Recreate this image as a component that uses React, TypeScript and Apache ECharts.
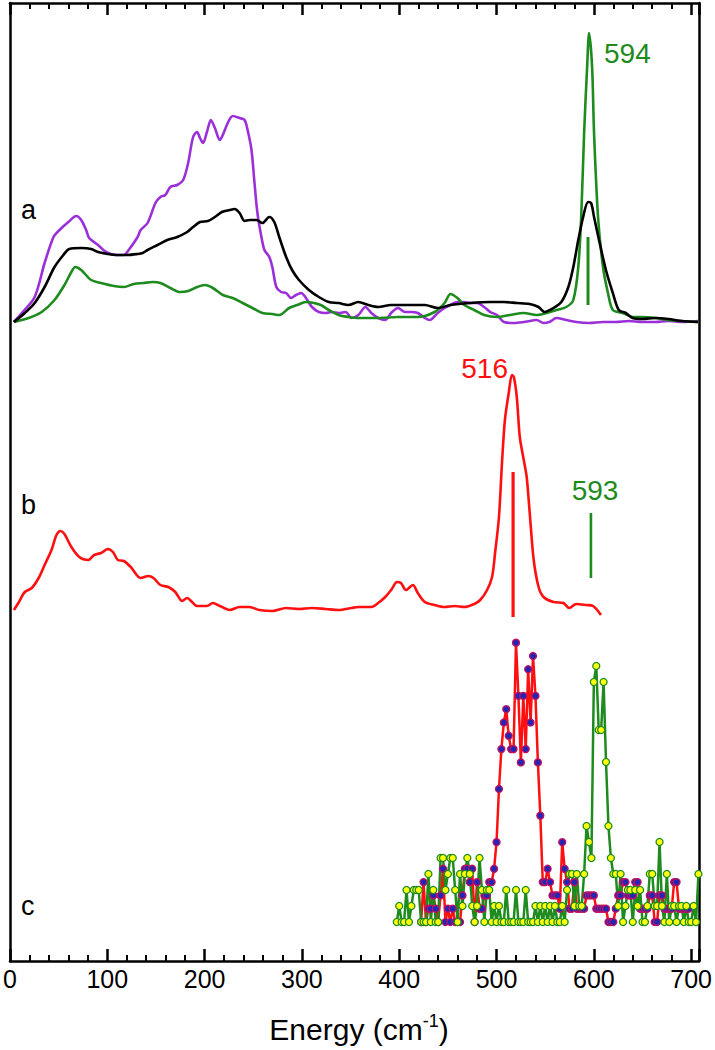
import React, { useEffect, useRef } from "react";
import * as echarts from "echarts";

// ---------- axis ----------
const xTickValues = [0, 100, 200, 300, 400, 500, 600, 700];
const xMin = 0;
const xMax = 708;

// ---------- panel a (intensity above panel baseline) ----------
const purpleE = [3.8, 12.2, 25.4, 35.6, 44.8, 50.9, 60, 68.2, 73.2, 78.3, 81.4, 90.5, 98.7, 108.9, 117, 122, 131.2, 134.3, 141.4, 149.5, 154.6, 159.7, 164.8, 171.9, 178, 183.1, 188.2, 192.3, 195.3, 198.4, 202.4, 206.5, 210.6, 215.7, 218.7, 223.8, 228.9, 236, 241.1, 244.2, 248.2, 251.3, 254.3, 258.4, 261.5, 266.5, 269.6, 273.7, 278.7, 283.8, 288.9, 294, 299.1, 304.2, 310.3, 317.4, 324.5, 330.6, 337.7, 344.9, 351, 358, 365.2, 371.3, 378.4, 385.6, 391.7, 398.8, 405.9, 412, 419.1, 426.3, 431.3, 439.5, 446.6, 452.7, 459.8, 466.9, 473, 480.2, 487.3, 493.4, 500.5, 507.6, 517.8, 528, 541.2, 548.3, 554.4, 561.5, 571.7, 581.9, 595.1, 609.4, 622.6, 635.8, 650, 663.3, 676.5, 690.7, 707];
const purpleI = [0, 9, 25, 59, 85, 92, 100, 106, 102, 92, 84, 77, 70, 67, 67, 72, 85, 92, 99, 119, 125, 127, 135, 137, 142, 159, 185, 190, 184, 179, 190, 202, 194, 182, 187, 199, 206, 204, 202, 192, 172, 139, 109, 85, 72, 65, 55, 35, 30, 29, 24, 27, 29, 24, 15, 10, 9, 10, 9, 10, 4, 7, 15, 9, 4, 2, 9, 14, 10, 10, 9, 4, 2, 9, 14, 17, 20, 20, 19, 19, 15, 10, 7, 0, -1, 0, 2, -1, 0, 4, 2, 0, -1, 0, 0, 1, 0, 0, 1, 0, 1];

const blackE = [4.1, 15.3, 25.4, 35.6, 45.8, 54.9, 61, 73.2, 83.4, 90.5, 100.7, 110.9, 121.1, 131.2, 136.3, 141.4, 151.6, 161.7, 171.9, 182.1, 188.2, 195.3, 203.5, 210.6, 217.7, 225.8, 230.9, 236, 241.1, 246.2, 253.3, 259.4, 266.5, 271.6, 276.7, 283.8, 289.9, 297, 307.2, 317.4, 327.6, 337.7, 347.9, 358, 368.3, 378.4, 391.7, 405.9, 426.3, 439.5, 452.7, 473, 493.4, 507.6, 520.8, 534, 543.2, 549.3, 558.5, 566.6, 573.8, 578.9, 584, 589, 594.1, 597.2, 600.2, 605.3, 612.4, 619.5, 625.6, 632.8, 639.9, 650, 663.3, 676.5, 690.7, 707];
const blackI = [0, 9, 19, 35, 55, 67, 73, 74, 73, 70, 68, 67, 67, 68, 69, 72, 77, 82, 85, 90, 95, 100, 101, 105, 110, 112, 113, 109, 101, 102, 102, 99, 105, 100, 85, 65, 52, 42, 32, 25, 20, 19, 17, 20, 17, 15, 17, 17, 17, 14, 17, 19, 20, 20, 19, 18, 15, 10, 14, 20, 35, 55, 82, 105, 120, 119, 105, 82, 52, 29, 12, 9, 4, 3, 4, 3, 1, 0];

const greenAE = [4.1, 19.3, 32.6, 45.8, 56, 63.1, 67.1, 73.2, 83.4, 93.6, 106.8, 117, 127.2, 137.3, 146.5, 154.6, 164.8, 175, 183.1, 192.3, 200.4, 208.5, 218.7, 228.9, 239.1, 249.2, 259.4, 269.6, 276.7, 286.9, 295, 304.2, 312.3, 319.4, 327.6, 337.7, 347.9, 358, 378.4, 398.8, 419.1, 436.4, 446.6, 452.7, 459.8, 466.9, 477.1, 487.3, 500.5, 513.7, 528, 541.2, 551.4, 561.5, 571.7, 578.9, 584, 587, 590, 593.1, 595.1, 598.2, 600.2, 604.3, 609.4, 614.5, 619.5, 629.7, 639.9, 650, 663.3, 676.5, 690.7, 707];
const greenAI = [0, 4, 10, 22, 37, 50, 55, 52, 42, 39, 36, 35, 38, 39, 40, 39, 34, 30, 31, 35, 37, 34, 27, 24, 19, 14, 9, 8, 7, 14, 17, 20, 19, 17, 12, 7, 5, 4, 4, 5, 5, 10, 19, 28, 24, 17, 12, 7, 5, 7, 9, 7, 9, 12, 15, 22, 55, 105, 189, 255, 289, 255, 189, 105, 55, 29, 12, 9, 5, 5, 4, 2, 1, 0];

// stick mark in panel a (energy, from, to)
const stickA = { energy: 594, from: 17, to: 85 };

// ---------- panel b ----------
const redBE = [4.1, 9.2, 15.3, 22.4, 29.5, 35.6, 42.7, 47.8, 51.9, 56, 63.1, 71.2, 80.4, 86.5, 93.6, 100.7, 105.8, 110.9, 117, 124.1, 134.3, 142.4, 147.5, 154.6, 162.8, 169.9, 177, 182.1, 187.2, 192.3, 202.4, 208.5, 215.7, 225.8, 236, 246.2, 256.4, 269.6, 283.8, 297, 310.3, 324.5, 337.7, 351, 358, 371.3, 378.4, 385.6, 391.7, 397.8, 401.8, 406.9, 414, 419.1, 426.3, 436.4, 446.6, 456.8, 466.9, 477.1, 483.2, 490.3, 495.4, 498.5, 502.5, 505.6, 508.6, 512.7, 515.8, 517.8, 520.8, 523.9, 528, 531, 534.1, 538.2, 543.2, 548.3, 558.5, 568.7, 574.8, 581.9, 592.1, 599.2, 607.3];
const redBI = [0, 8, 18, 22, 32, 45, 60, 75, 79, 76, 63, 53, 50, 55, 57, 61, 58, 50, 49, 43, 32, 34, 32, 25, 23, 18, 9, 12, 8, 4, 4, 7, 4, 0, 3, 3, 0, -1, 2, 1, 2, 1, 0, 2, 3, 3, 7, 13, 20, 28, 27, 20, 25, 17, 8, 5, 3, 4, 3, 6, 10, 20, 33, 57, 93, 147, 190, 218, 235, 233, 213, 173, 150, 133, 97, 50, 23, 13, 8, 7, 2, 6, 5, 4, -5];

const stickBRed = { energy: 517, from: -7, to: 138 };
const stickBGreen = { energy: 597, from: 32, to: 97 };

// ---------- panel c (counts) ----------
const cEnergy = [
  397.5, 400, 402.5, 405, 407.5, 410, 412.5, 415, 417.5, 420,
  422.5, 425, 427.5, 430, 432.5, 435, 437.5, 440, 442.5, 445,
  447.5, 450, 452.5, 455, 457.5, 460, 462.5, 465, 467.5, 470,
  472.5, 475, 477.5, 480, 482.5, 485, 487.5, 490, 492.5, 495,
  497.5, 500, 502.5, 505, 507.5, 510, 512.5, 515, 517.5, 520,
  522.5, 525, 527.5, 530, 532.5, 535, 537.5, 540, 542.5, 545,
  547.5, 550, 552.5, 555, 557.5, 560, 562.5, 565, 567.5, 570,
  572.5, 575, 577.5, 580, 582.5, 585, 587.5, 590, 592.5, 595,
  597.5, 600, 602.5, 605, 607.5, 610, 612.5, 615, 617.5, 620,
  622.5, 625, 627.5, 630, 632.5, 635, 637.5, 640, 642.5, 645,
  647.5, 650, 652.5, 655, 657.5, 660, 662.5, 665, 667.5, 670,
  672.5, 675, 677.5, 680, 682.5, 685, 687.5, 690, 692.5, 695,
  697.5, 700, 702.5, 705, 707.5,
];
const redCounts = [
  null, null, null, null, null, null, null, null, null, null,
  0, 3, 0, 1, 1, 2, 1, 0, 2, 4,
  0, 1, 0, 1, 0, 0, 0, 2, 4, 4,
  3, 4, 0, 3, 1, 1, 2, 2, 3, 3,
  4, 6, 10, 13, 15, 16, 14, 13, 13, 21,
  17, 12, 17, 13, 19, 15, 20, 17, 12, 8,
  3, 3, 4, 3, 2, 2, 2, 1, 6, 4,
  3, 1, 1, 3, 1, 1, 1, 1, 2, 2,
  2, 2, 1, 1, 1, 1, 1, 0, 0, 0,
  1, 2, 2, 3, 3, 2, 2, 2, 3, 3,
  1, 1, 1, 1, 2, 2, 0, 0, 2, 2,
  1, 1, 1, 1, 3, 3, 1, 1, 1, 1,
  1, null, null, null, null,
];
const greenCounts = [
  0, 1, 0, 0, 2, 0, 1, 2, 2, 2,
  0, 0, 0, 3, 0, 2, 0, 0, 4, 4,
  2, 3, 4, 4, 2, 0, 3, 1, 3, 4,
  3, 1, 0, 1, 4, 2, 0, 2, 2, 0,
  1, 0, 1, 0, 0, 2, 0, 0, 0, 2,
  0, 0, 0, 2, 0, 0, 0, 1, 0, 1,
  0, 1, 0, 1, 0, 1, 0, 0, 1, 0,
  2, 3, 3, 1, 3, 1, 1, 3, 6, 5,
  4, 15, 16, 12, 12, 15, 10, 6, 4, 3,
  3, 1, 3, 0, 1, 2, 2, 0, 2, 1,
  2, 0, 0, 1, 3, 3, 1, 1, 5, 1,
  0, 3, 0, 1, 1, 0, 1, 1, 0, 1,
  0, 0, 1, 0, 3,
];

// ---------- layout constants (vertical stacking of the panels) ----------
const OFFSET_A = 639;
const OFFSET_B = 351;
const OFFSET_C = 39;
const RED_COUNT_SCALE = 13.3;
const GREEN_COUNT_SCALE = 16;
const Y_MAX = 958;

const FONT = "'Liberation Sans', Arial, Helvetica, sans-serif";
const PURPLE = "#9B30D9";
const GREEN = "#1E8B1E";
const RED = "#FF1010";
const BLACK = "#000000";

function App() {
  const ref = useRef<HTMLDivElement | null>(null);

  useEffect(() => {
    if (!ref.current) return;
    const chart = echarts.init(ref.current, undefined, { renderer: "svg" });

    const trace = (E: number[], I: number[], offset: number, color: string, width = 2.6) => ({
      type: "line",
      data: E.map((e, i) => [e, offset + I[i]]),
      showSymbol: false,
      symbol: "none",
      smooth: 0.3,
      silent: true,
      lineStyle: { color, width },
      xAxisIndex: 0,
      yAxisIndex: 0,
    });
    const stick = (s: { energy: number; from: number; to: number }, offset: number, color: string, width = 3) => ({
      type: "line",
      data: [
        [s.energy, offset + s.from],
        [s.energy, offset + s.to],
      ],
      showSymbol: false,
      symbol: "none",
      silent: true,
      lineStyle: { color, width },
    });
    const counts = (C: (number | null)[], scale: number, lineColor: string, fill: string, border: string) => ({
      type: "line",
      data: cEnergy.map((e, i) => [e, C[i] === null ? null : OFFSET_C + (C[i] as number) * scale]),
      showSymbol: true,
      symbol: "circle",
      symbolSize: 7,
      silent: true,
      lineStyle: { color: lineColor, width: 2.5 },
      itemStyle: { color: fill, borderColor: border, borderWidth: 1.3 },
    });

    const xTickFormatter = (v: number) => (xTickValues.indexOf(v) >= 0 ? String(v) : "");
    const axisLineStyle = { color: BLACK, width: 2.5 };

    const option: any = {
      animation: false,
      grid: { left: 8, top: 3, width: 696, height: 958, show: false },
      xAxis: [
        {
          type: "value",
          min: xMin,
          max: xMax,
          interval: 100,
          position: "bottom",
          axisLine: { show: true, onZero: false, lineStyle: axisLineStyle },
          axisTick: { show: true, inside: true, length: 12, lineStyle: { color: BLACK, width: 2.5 } },
          minorTick: { show: true, splitNumber: 5, length: 6, lineStyle: { color: BLACK, width: 2 } },
          axisLabel: { show: true, fontSize: 25, color: BLACK, fontFamily: FONT, margin: 5, formatter: xTickFormatter },
          splitLine: { show: false },
          minorSplitLine: { show: false },
        },
        {
          type: "value",
          min: xMin,
          max: xMax,
          interval: 100,
          position: "top",
          axisLine: { show: true, onZero: false, lineStyle: axisLineStyle },
          axisTick: { show: true, inside: true, length: 12, lineStyle: { color: BLACK, width: 2.5 } },
          minorTick: { show: true, splitNumber: 5, length: 6, lineStyle: { color: BLACK, width: 2 } },
          axisLabel: { show: false },
          splitLine: { show: false },
          minorSplitLine: { show: false },
        },
      ],
      yAxis: [
        {
          type: "value",
          min: 0,
          max: Y_MAX,
          position: "left",
          axisLine: { show: true, onZero: false, lineStyle: axisLineStyle },
          axisTick: { show: false },
          axisLabel: { show: false },
          splitLine: { show: false },
        },
        {
          type: "value",
          min: 0,
          max: Y_MAX,
          position: "right",
          axisLine: { show: true, onZero: false, lineStyle: axisLineStyle },
          axisTick: { show: false },
          axisLabel: { show: false },
          splitLine: { show: false },
        },
      ],
      series: [
        trace(purpleE, purpleI, OFFSET_A, PURPLE),
        trace(greenAE, greenAI, OFFSET_A, GREEN),
        trace(blackE, blackI, OFFSET_A, BLACK),
        stick(stickA, OFFSET_A, GREEN),
        trace(redBE, redBI, OFFSET_B, RED),
        stick(stickBRed, OFFSET_B, RED, 3.2),
        stick(stickBGreen, OFFSET_B, GREEN, 2.6),
        counts(redCounts, RED_COUNT_SCALE, RED, "#2525B5", "#C01060"),
        counts(greenCounts, GREEN_COUNT_SCALE, GREEN, "#FFFF10", GREEN),
      ],
      graphic: [
        { type: "text", x: 21, y: 210, silent: true, style: { text: "a", fill: BLACK, fontSize: 27, fontFamily: FONT, align: "left", verticalAlign: "middle" } },
        { type: "text", x: 21, y: 505, silent: true, style: { text: "b", fill: BLACK, fontSize: 27, fontFamily: FONT, align: "left", verticalAlign: "middle" } },
        { type: "text", x: 21, y: 906, silent: true, style: { text: "c", fill: BLACK, fontSize: 27, fontFamily: FONT, align: "left", verticalAlign: "middle" } },
        { type: "text", x: 604, y: 53, silent: true, style: { text: "594", fill: GREEN, fontSize: 28, fontFamily: FONT, align: "left", verticalAlign: "middle" } },
        { type: "text", x: 508, y: 368, silent: true, style: { text: "516", fill: RED, fontSize: 28, fontFamily: FONT, align: "right", verticalAlign: "middle" } },
        { type: "text", x: 595, y: 490, silent: true, style: { text: "593", fill: GREEN, fontSize: 28, fontFamily: FONT, align: "center", verticalAlign: "middle" } },
        {
          type: "text",
          x: 359,
          y: 1029,
          silent: true,
          style: {
            text: "{n|Energy (cm}{s|-1}{n|)}",
            align: "center",
            verticalAlign: "middle",
            rich: {
              n: { fontSize: 30, fontFamily: FONT, fill: BLACK, lineHeight: 34 },
              s: { fontSize: 18, fontFamily: FONT, fill: BLACK, verticalAlign: "top", lineHeight: 18 },
            },
          },
        },
      ],
    };

    chart.setOption(option);
    return () => {
      chart.dispose();
    };
  }, []);

  return <div ref={ref} style={{ position: "absolute", left: 0, top: 0, width: 715, height: 1050 }} />;
}

export default App;
